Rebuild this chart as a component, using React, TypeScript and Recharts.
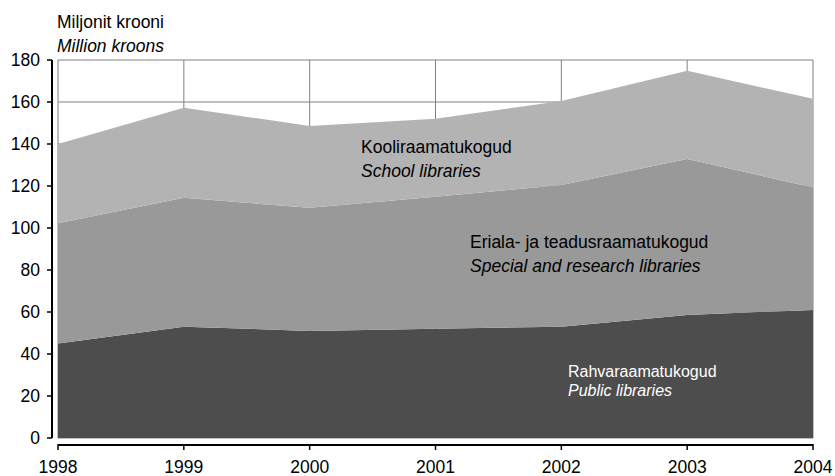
import React from "react";
import { AreaChart, Area, XAxis, YAxis, CartesianGrid } from "recharts";

// Million kroons, stacked bottom → top
const years = [1998, 1999, 2000, 2001, 2002, 2003, 2004];
const publicLib = [45, 53, 51, 52, 53, 58.6, 61];
const specialLib = [57.3, 61.4, 58.6, 62.9, 67.5, 74.3, 58.3];
const schoolLib = [37.7, 42.9, 39, 37.1, 40, 42, 42.2];
const yTicks = [0, 20, 40, 60, 80, 100, 120, 140, 160, 180];

const data = years.map((year, i) => ({
  year,
  public: publicLib[i],
  special: specialLib[i],
  school: schoolLib[i],
}));

const FONT = "'Liberation Sans', Arial, sans-serif";

const YTick = (props: any) => {
  const { x, y, payload } = props;
  return (
    <g>
      <line x1={x - 11} x2={x - 6} y1={y} y2={y} stroke="#000" strokeWidth={1.5} />
      <text
        x={x - 18}
        y={y}
        dy="0.35em"
        textAnchor="end"
        fontSize={17.5}
        fontFamily={FONT}
        fill="#000"
      >
        {payload.value}
      </text>
    </g>
  );
};

const XTick = (props: any) => {
  const { x, y, payload } = props;
  return (
    <g>
      <line x1={x} x2={x} y1={y + 6} y2={y + 12} stroke="#000" strokeWidth={1.5} />
      <text
        x={x}
        y={y + 35}
        textAnchor="middle"
        fontSize={17.5}
        fontFamily={FONT}
        fill="#000"
      >
        {payload.value}
      </text>
    </g>
  );
};

const label: React.CSSProperties = {
  position: "absolute",
  fontFamily: FONT,
  fontSize: 17.5,
  lineHeight: "24px",
  whiteSpace: "nowrap",
  color: "#000",
};

export default function App() {
  return (
    <div
      style={{
        position: "absolute",
        left: 0,
        top: 0,
        width: 835,
        height: 476,
        background: "#fff",
        fontFamily: FONT,
      }}
    >
      <AreaChart
        width={835}
        height={476}
        data={data}
        margin={{ top: 60, right: 22, bottom: 0, left: 0 }}
      >
        <CartesianGrid stroke="#808080" strokeWidth={1} />
        <XAxis
          dataKey="year"
          type="number"
          domain={[1998, 2004]}
          ticks={years}
          height={38}
          tickSize={0}
          tickMargin={0}
          tick={<XTick />}
          tickLine={false}
          axisLine={{ stroke: "#000", strokeWidth: 2, transform: "translate(0,7)" }}
          interval={0}
        />
        <YAxis
          domain={[0, 180]}
          ticks={yTicks}
          width={58}
          tickSize={0}
          tickMargin={0}
          tick={<YTick />}
          tickLine={false}
          axisLine={{ stroke: "#000", strokeWidth: 2, transform: "translate(-6,0)" }}
          interval={0}
        />
        <Area
          type="linear"
          dataKey="public"
          stackId="1"
          fill="#4d4d4d"
          fillOpacity={1}
          stroke="none"
          isAnimationActive={false}
        />
        <Area
          type="linear"
          dataKey="special"
          stackId="1"
          fill="#999999"
          fillOpacity={1}
          stroke="none"
          isAnimationActive={false}
        />
        <Area
          type="linear"
          dataKey="school"
          stackId="1"
          fill="#b3b3b3"
          fillOpacity={1}
          stroke="none"
          isAnimationActive={false}
        />
      </AreaChart>

      {/* axis title */}
      <div style={{ ...label, left: 57, top: 10 }}>Miljonit krooni</div>
      <div style={{ ...label, left: 57, top: 34, fontStyle: "italic" }}>Million kroons</div>

      {/* series labels */}
      <div style={{ ...label, left: 361, top: 135 }}>Kooliraamatukogud</div>
      <div style={{ ...label, left: 361, top: 159, fontStyle: "italic" }}>School libraries</div>

      <div style={{ ...label, left: 470, top: 230 }}>Eriala- ja teadusraamatukogud</div>
      <div style={{ ...label, left: 470, top: 254, fontStyle: "italic" }}>
        Special and research libraries
      </div>

      <div style={{ ...label, left: 568, top: 362, fontSize: 16, lineHeight: "20px", color: "#fff" }}>
        Rahvaraamatukogud
      </div>
      <div
        style={{
          ...label,
          left: 568,
          top: 381,
          fontSize: 16,
          lineHeight: "20px",
          color: "#fff",
          fontStyle: "italic",
        }}
      >
        Public libraries
      </div>
    </div>
  );
}
